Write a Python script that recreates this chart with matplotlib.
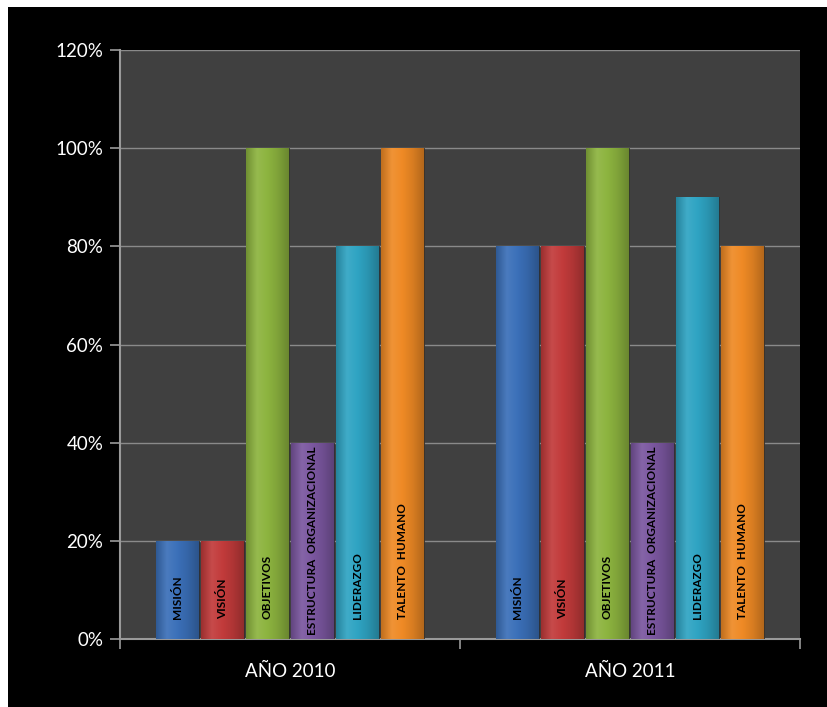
import numpy as np
import matplotlib
matplotlib.use("Agg")
import matplotlib.pyplot as plt
from matplotlib.patches import Rectangle
from matplotlib.colors import LinearSegmentedColormap, to_rgb

# data
years = ["AÑO 2010", "AÑO 2011"]
labels = ["MISIÓN", "VISIÓN", "OBJETIVOS", "ESTRUCTURA  ORGANIZACIONAL", "LIDERAZGO", "TALENTO  HUMANO"]
v2010 = [20, 20, 100, 40, 80, 100]
v2011 = [80, 80, 100, 40, 90, 80]
colors = ["#3b70b9", "#c23b3b", "#8db43f", "#7b57a0", "#2fa4c3", "#ef8a25"]

plt.rcParams['font.family'] = ['Lato', 'DejaVu Sans']


def shade(c, f):
    r = np.array(to_rgb(c))
    if f < 1:
        return tuple(r * f)
    return tuple(r + (1 - r) * (f - 1))


fig = plt.figure(figsize=(8.28, 7.07), dpi=100, facecolor="white")
fig.patches.append(Rectangle((8 / 828, 0), 1, 1 - 7 / 707, transform=fig.transFigure,
                             facecolor="black", edgecolor="none", zorder=-10))

ax = fig.add_axes([120 / 828, (707 - 639) / 707, 680 / 828, 589 / 707])
ax.set_facecolor("#404040")

values = np.array([v2010, v2011])
n = len(labels)
w = 0.1324
x = np.arange(len(years))
grad = np.linspace(0, 1, 64).reshape(1, -1)
for i in range(n):
    pos = x + (i - (n - 1) / 2) * w
    bars = ax.bar(pos, values[:, i], width=w * 0.94, color=colors[i],
                  edgecolor="#2a2a2a", linewidth=0.6, zorder=3)
    cmap = LinearSegmentedColormap.from_list(
        "g", [shade(colors[i], 0.8), shade(colors[i], 1.08), colors[i],
              shade(colors[i], 0.9), shade(colors[i], 0.75)])
    for b, p in zip(bars, pos):
        x0, wd, h = b.get_x(), b.get_width(), b.get_height()
        im = ax.imshow(grad, extent=[x0, x0 + wd, 0, h], cmap=cmap,
                       aspect="auto", zorder=3.5, interpolation="bicubic")
        im.set_clip_path(b)
        if len(labels[i]) > 20:
            ax.text(p, 20, labels[i], rotation=90, ha="center", va="center",
                    fontsize=8.5, fontweight="bold", color="black", zorder=4,
                    family=["Liberation Sans Narrow", "Lato", "DejaVu Sans"])
        else:
            ax.text(p, 4, labels[i], rotation=90, ha="center", va="bottom",
                    fontsize=8.5, fontweight="bold", color="black", zorder=4,
                    family=["Liberation Sans Narrow", "Lato", "DejaVu Sans"])

ax.set_xlim(-0.5, 1.5)
ax.set_ylim(0, 120)
ax.set_yticks(range(0, 121, 20))
ax.set_yticklabels([f"{t}%" for t in range(0, 121, 20)], color="white", fontsize=13.5)
ax.yaxis.grid(True, color="#8a8a8a", linewidth=1, zorder=0)
ax.set_axisbelow(True)

ax.set_xticks(x)
ax.set_xticklabels(years, color="white", fontsize=13.5)
ax.set_xticks([-0.5, 0.5, 1.5], minor=True)
ax.tick_params(axis="x", which="major", length=0, pad=17)
ax.tick_params(axis="x", which="minor", length=7, color="#9a9a9a", width=1.2)
ax.tick_params(axis="y", length=7, color="#9a9a9a", width=1.2, pad=5)

for s in ["top", "right"]:
    ax.spines[s].set_visible(False)
for s in ["left", "bottom"]:
    ax.spines[s].set_color("#9a9a9a")
    ax.spines[s].set_linewidth(1.5)

fig.savefig("out.png", dpi=100, facecolor=fig.get_facecolor())
